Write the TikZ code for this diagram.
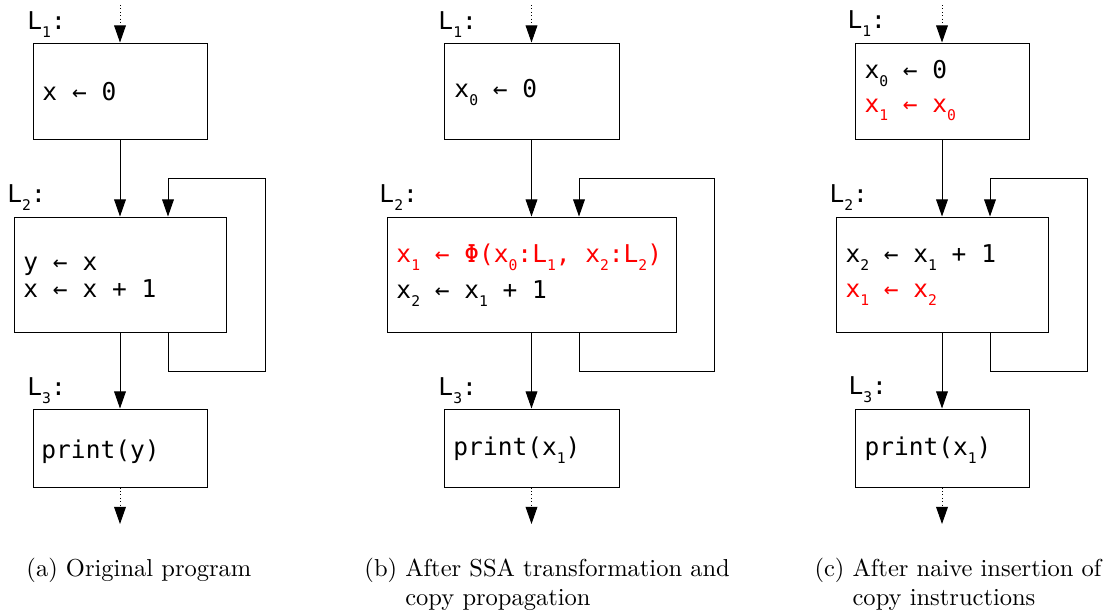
\documentclass[tikz,border=0pt]{standalone}
\usepackage{fontspec}
\newfontfamily\codefont{DejaVu Sans Mono}
\usetikzlibrary{arrows.meta,fit}
% lowered, smaller index for variable names and labels
\newcommand\sbs[1]{\raisebox{-3.6pt}{\fontsize{6}{6}\selectfont #1}}

\begin{document}
\begin{tikzpicture}[x=0.408pt,y=-0.408pt,
  box/.style={draw, line width=0.4pt, inner sep=0pt},
  code/.style={anchor=base west, inner sep=0pt, font=\codefont\fontsize{10}{12}\selectfont},
  hot/.style={code, text=red},
  captext/.style={anchor=base west, inner sep=0pt, font=\fontsize{10}{12}\selectfont},
  flow/.style={-{Triangle[length=7pt,width=4.8pt]}, line width=0.4pt},
  dotflow/.style={flow, densely dotted}]
\useasboundingbox (0,0) rectangle (1111,615);

% ---------------- (a) original program ----------------
\node[box, fit={(33,43) (207,139)}] (a1) {};
\node[box, fit={(14,217) (226,332)}] (a2) {};
\node[box, fit={(33,409) (207,487)}] (a3) {};
\coordinate (a0) at (120,5);
\coordinate (a4) at (120,524);
\coordinate (aLb) at (168,371);
\coordinate (aLt) at (265,178);

\node[code] (a1l) at (27,29) {L\sbs{1}:};
\node[code] (a1t) at (42,100) {x ← 0};
\node[code] (a2l) at (7,202) {L\sbs{2}:};
\node[code] (a2t1) at (23,270) {y ← x};
\node[code] (a2t2) at (23,297) {x ← x + 1};
\node[code] (a3l) at (27,395) {L\sbs{3}:};
\node[code] (a3t) at (41,458) {print(y)};

\draw[dotflow] (a0) -- (a1.north);
\draw[flow] (a1.south) -- (a2.north);
\draw[flow] (a2.south -| aLb) -- (aLb) -| (aLt) -| (a2.north -| aLb);
\draw[flow] (a2.south) -- (a3.north);
\draw[dotflow] (a3.south) -- (a4);

\node[captext] (capa) at (26,576) {(a) Original program};

% ---------------- (b) SSA form ----------------
\node[box, fit={(444,43) (619,139)}] (b1) {};
\node[box, fit={(387,217) (676,332)}] (b2) {};
\node[box, fit={(444,409) (619,487)}] (b3) {};
\coordinate (b0) at (531.5,5);
\coordinate (b4) at (531.5,524);
\coordinate (bLb) at (579,371);
\coordinate (bLt) at (714,178);

\node[code] (b1l) at (438,29) {L\sbs{1}:};
\node[code] (b1t) at (454,97) {x\sbs{0} ← 0};
\node[code] (b2l) at (379,202) {L\sbs{2}:};
\node[hot] (b2t1) at (396,262) {x\sbs{1} ← Φ(x\sbs{0}:L\sbs{1}, x\sbs{2}:L\sbs{2})};
\node[code] (b2t2) at (396,298) {x\sbs{2} ← x\sbs{1} + 1};
\node[code] (b3l) at (438,395) {L\sbs{3}:};
\node[code] (b3t) at (453,455) {print(x\sbs{1})};

\draw[dotflow] (b0) -- (b1.north);
\draw[flow] (b1.south) -- (b2.north);
\draw[flow] (b2.south -| bLb) -- (bLb) -| (bLt) -| (b2.north -| bLb);
\draw[flow] (b2.south) -- (b3.north);
\draw[dotflow] (b3.south) -- (b4);

\node[captext] (capb1) at (364,576) {(b) After SSA transformation and};
\node[captext] (capb2) at ([yshift=-12pt]capb1.base west) {\hphantom{(b)\ }copy propagation};

% ---------------- (c) naive copies ----------------
\node[box, fit={(855,43) (1029,139)}] (c1) {};
\node[box, fit={(836,217) (1048,332)}] (c2) {};
\node[box, fit={(855,409) (1029,487)}] (c3) {};
\coordinate (c0) at (942,5);
\coordinate (c4) at (942,524);
\coordinate (cLb) at (990,371);
\coordinate (cLt) at (1087,178);

\node[code] (c1l) at (847,28) {L\sbs{1}:};
\node[code] (c1t1) at (864,78) {x\sbs{0} ← 0};
\node[hot] (c1t2) at (864,112) {x\sbs{1} ← x\sbs{0}};
\node[code] (c2l) at (829,202) {L\sbs{2}:};
\node[code] (c2t1) at (845,262) {x\sbs{2} ← x\sbs{1} + 1};
\node[hot] (c2t2) at (845,297) {x\sbs{1} ← x\sbs{2}};
\node[code] (c3l) at (848,394) {L\sbs{3}:};
\node[code] (c3t) at (864,455) {print(x\sbs{1})};

\draw[dotflow] (c0) -- (c1.north);
\draw[flow] (c1.south) -- (c2.north);
\draw[flow] (c2.south -| cLb) -- (cLb) -| (cLt) -| (c2.north -| cLb);
\draw[flow] (c2.south) -- (c3.north);
\draw[dotflow] (c3.south) -- (c4);

\node[captext] (capc1) at (814,576) {(c) After naive insertion of};
\node[captext] (capc2) at ([yshift=-12pt]capc1.base west) {\hphantom{(c)\ }copy instructions};
\end{tikzpicture}
\end{document}
